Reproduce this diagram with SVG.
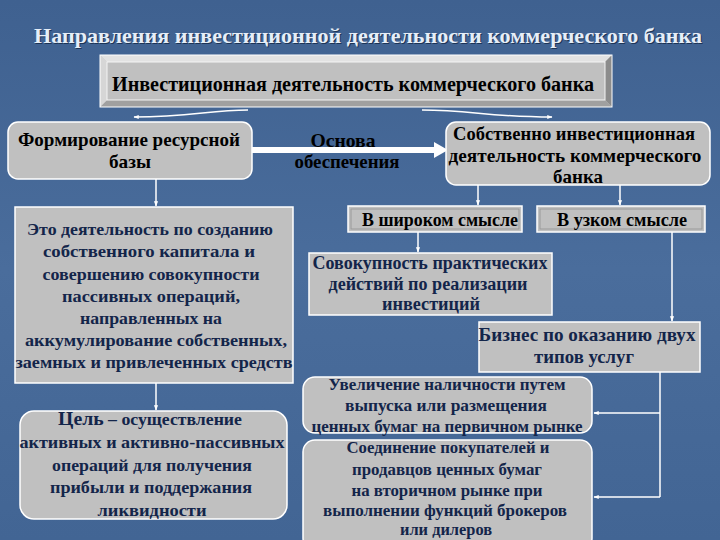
<svg xmlns="http://www.w3.org/2000/svg" width="720" height="540" viewBox="0 0 720 540">
<defs>
<linearGradient id="bg" x1="0" y1="0" x2="0" y2="1">
<stop offset="0" stop-color="#3f6190"/>
<stop offset="0.5" stop-color="#4a6d9c"/>
<stop offset="1" stop-color="#426594"/>
</linearGradient>
<marker id="ahs" viewBox="0 0 10 10" refX="9" refY="5" markerWidth="3.5" markerHeight="3.5" orient="auto">
<path d="M0,1 L10,5 L0,9 z" fill="#ffffff"/>
</marker>
</defs>
<style>
text{font-family:'Liberation Serif','DejaVu Serif','Times New Roman',serif;font-weight:bold;text-anchor:middle}
.blk{fill:#000000}
.nv{fill:#13254a}
.box{fill:#c0c0c0;stroke:#ffffff;stroke-width:1.5}
.ln{stroke:#ffffff;stroke-width:1.5;fill:none}
</style>
<rect x="0" y="0" width="720" height="540" fill="url(#bg)"/>

<g id="title">
<text x="368" y="43" font-size="21" fill="#1d3456" textLength="668" lengthAdjust="spacingAndGlyphs" dx="1" dy="1">Направления инвестиционной деятельности коммерческого банка</text>
<text x="368" y="43" font-size="21" fill="#e6eef8" textLength="668" lengthAdjust="spacingAndGlyphs">Направления инвестиционной деятельности коммерческого банка</text>
</g>

<g id="main">
<rect x="100" y="55" width="512" height="52" fill="#c8c8c8"/>
<polygon points="100,55 612,55 605,62 107,62" fill="#e2e2e2"/>
<polygon points="612,55 612,107 605,100 605,62" fill="#8c8c8c"/>
<polygon points="100,107 612,107 605,100 107,100" fill="#a0a0a0"/>
<polygon points="100,55 107,62 107,100 100,107" fill="#d6d6d6"/>
<rect x="107" y="62" width="498" height="38" fill="#c0c0c0" stroke="#f4f4f4" stroke-width="1"/>
<rect x="100" y="55" width="512" height="52" fill="none" stroke="#ffffff" stroke-width="1"/>
<text class="blk" x="353" y="91" font-size="20" textLength="482" lengthAdjust="spacingAndGlyphs">Инвестиционная деятельность коммерческого банка</text>
</g>

<g id="connectors">
<path class="ln" d="M248,110 C210,110 190,117 134,117" marker-end="url(#ahs)"/>
<path class="ln" d="M422,110 C470,110 490,117 552,117" marker-end="url(#ahs)"/>
<line x1="252" y1="150" x2="437" y2="150" stroke="#ffffff" stroke-width="6"/>
<polygon points="434,142 448,150 434,158" fill="#ffffff"/>
<line class="ln" x1="156" y1="179" x2="156" y2="206" marker-end="url(#ahs)"/>
<line class="ln" x1="478" y1="185" x2="478" y2="205" marker-end="url(#ahs)"/>
<line class="ln" x1="620" y1="185" x2="620" y2="205" marker-end="url(#ahs)"/>
<line class="ln" x1="418" y1="232" x2="418" y2="252" marker-end="url(#ahs)"/>
<line class="ln" x1="672" y1="232" x2="672" y2="321" marker-end="url(#ahs)"/>
<line class="ln" x1="156" y1="383" x2="156" y2="410" marker-end="url(#ahs)"/>
<polyline class="ln" points="660,372 660,497"/>
<line class="ln" x1="660" y1="413" x2="594" y2="413" marker-end="url(#ahs)"/>
<line class="ln" x1="660" y1="497" x2="594" y2="497" marker-end="url(#ahs)"/>
</g>

<g id="resource">
<rect class="box" x="8" y="122" width="244" height="57" rx="10"/>
<text class="blk" x="129" y="146" font-size="19" textLength="222" lengthAdjust="spacingAndGlyphs">Формирование ресурсной</text>
<text class="blk" x="130" y="168" font-size="19" textLength="42" lengthAdjust="spacingAndGlyphs">базы</text>
</g>

<g id="basis">
<text class="blk" x="343" y="147" font-size="19" textLength="65" lengthAdjust="spacingAndGlyphs">Основа</text>
<text class="blk" x="347" y="168" font-size="19" textLength="105" lengthAdjust="spacingAndGlyphs">обеспечения</text>
</g>

<g id="proper">
<rect class="box" x="446" y="122" width="264" height="63" rx="10"/>
<text class="blk" x="574" y="140" font-size="19" textLength="242" lengthAdjust="spacingAndGlyphs">Собственно инвестиционная</text>
<text class="blk" x="575" y="162" font-size="19" textLength="253" lengthAdjust="spacingAndGlyphs">деятельность коммерческого</text>
<text class="blk" x="578" y="183" font-size="19" textLength="50" lengthAdjust="spacingAndGlyphs">банка</text>
</g>

<g id="wide">
<rect x="348" y="206" width="174" height="26" fill="#c0c0c0" stroke="#ffffff" stroke-width="1.5"/>
<rect x="351" y="209" width="168" height="20" fill="none" stroke="#9a9a9a" stroke-width="1"/>
<text class="blk" x="440" y="226" font-size="18.5" textLength="156" lengthAdjust="spacingAndGlyphs">В широком смысле</text>
</g>

<g id="narrow">
<rect x="537" y="206" width="168" height="26" fill="#c0c0c0" stroke="#ffffff" stroke-width="1.5"/>
<rect x="540" y="209" width="162" height="20" fill="none" stroke="#9a9a9a" stroke-width="1"/>
<text class="blk" x="622" y="226" font-size="18.5" textLength="130" lengthAdjust="spacingAndGlyphs">В узком смысле</text>
</g>

<g id="resdef">
<rect class="box" x="15" y="207" width="278" height="176"/>
<text class="nv" x="150" y="235" font-size="17.5" textLength="246" lengthAdjust="spacingAndGlyphs">Это деятельность по созданию</text>
<text class="nv" x="149" y="257" font-size="17.5" textLength="212" lengthAdjust="spacingAndGlyphs">собственного капитала и</text>
<text class="nv" x="151" y="279.5" font-size="17.5" textLength="217" lengthAdjust="spacingAndGlyphs">совершению совокупности</text>
<text class="nv" x="151" y="301.5" font-size="17.5" textLength="178" lengthAdjust="spacingAndGlyphs">пассивных операций,</text>
<text class="nv" x="151" y="323.5" font-size="17.5" textLength="142" lengthAdjust="spacingAndGlyphs">направленных на</text>
<text class="nv" x="156" y="346" font-size="17.5" textLength="262" lengthAdjust="spacingAndGlyphs">аккумулирование собственных,</text>
<text class="nv" x="154" y="368" font-size="17.5" textLength="277" lengthAdjust="spacingAndGlyphs">заемных и привлеченных средств</text>
</g>

<g id="goal">
<rect class="box" x="20" y="411" width="267" height="108" rx="14"/>
<text class="nv" x="150" y="425" font-size="17.5" textLength="184" lengthAdjust="spacingAndGlyphs"><tspan font-size="19.5">Цель</tspan> – осуществление</text>
<text class="nv" x="152" y="448" font-size="17.5" textLength="265" lengthAdjust="spacingAndGlyphs">активных и активно-пассивных</text>
<text class="nv" x="152" y="470.5" font-size="17.5" textLength="200" lengthAdjust="spacingAndGlyphs">операций для получения</text>
<text class="nv" x="151" y="493" font-size="17.5" textLength="202" lengthAdjust="spacingAndGlyphs">прибыли и поддержания</text>
<text class="nv" x="152" y="515.5" font-size="17.5" textLength="109" lengthAdjust="spacingAndGlyphs">ликвидности</text>
</g>

<g id="practical">
<rect class="box" x="309" y="253" width="243" height="62"/>
<text class="nv" x="430" y="269" font-size="18" textLength="235" lengthAdjust="spacingAndGlyphs">Совокупность практических</text>
<text class="nv" x="428" y="290" font-size="18" textLength="199" lengthAdjust="spacingAndGlyphs">действий по реализации</text>
<text class="nv" x="431" y="310" font-size="18" textLength="98" lengthAdjust="spacingAndGlyphs">инвестиций</text>
</g>

<g id="business">
<rect class="box" x="479" y="322" width="221" height="50"/>
<text class="nv" x="587" y="341" font-size="19" textLength="217" lengthAdjust="spacingAndGlyphs">Бизнес по оказанию двух</text>
<text class="nv" x="584" y="363" font-size="19" textLength="100" lengthAdjust="spacingAndGlyphs">типов услуг</text>
</g>

<g id="primary">
<rect class="box" x="303" y="377" width="289" height="56" rx="12"/>
<text class="nv" x="447" y="390" font-size="17" textLength="237" lengthAdjust="spacingAndGlyphs">Увеличение наличности путем</text>
<text class="nv" x="446" y="411" font-size="17" textLength="202" lengthAdjust="spacingAndGlyphs">выпуска или размещения</text>
<text class="nv" x="447" y="432" font-size="17" textLength="271" lengthAdjust="spacingAndGlyphs">ценных бумаг на первичном рынке</text>
</g>

<g id="secondary">
<rect class="box" x="303" y="440" width="289" height="110" rx="12"/>
<text class="nv" x="448" y="453" font-size="17" textLength="203" lengthAdjust="spacingAndGlyphs">Соединение покупателей и</text>
<text class="nv" x="447" y="474.5" font-size="17" textLength="190" lengthAdjust="spacingAndGlyphs">продавцов ценных бумаг</text>
<text class="nv" x="447" y="495.5" font-size="17" textLength="191" lengthAdjust="spacingAndGlyphs">на вторичном рынке при</text>
<text class="nv" x="445" y="516" font-size="17" textLength="244" lengthAdjust="spacingAndGlyphs">выполнении функций брокеров</text>
<text class="nv" x="446" y="535" font-size="17" textLength="92" lengthAdjust="spacingAndGlyphs">или дилеров</text>
</g>
</svg>
